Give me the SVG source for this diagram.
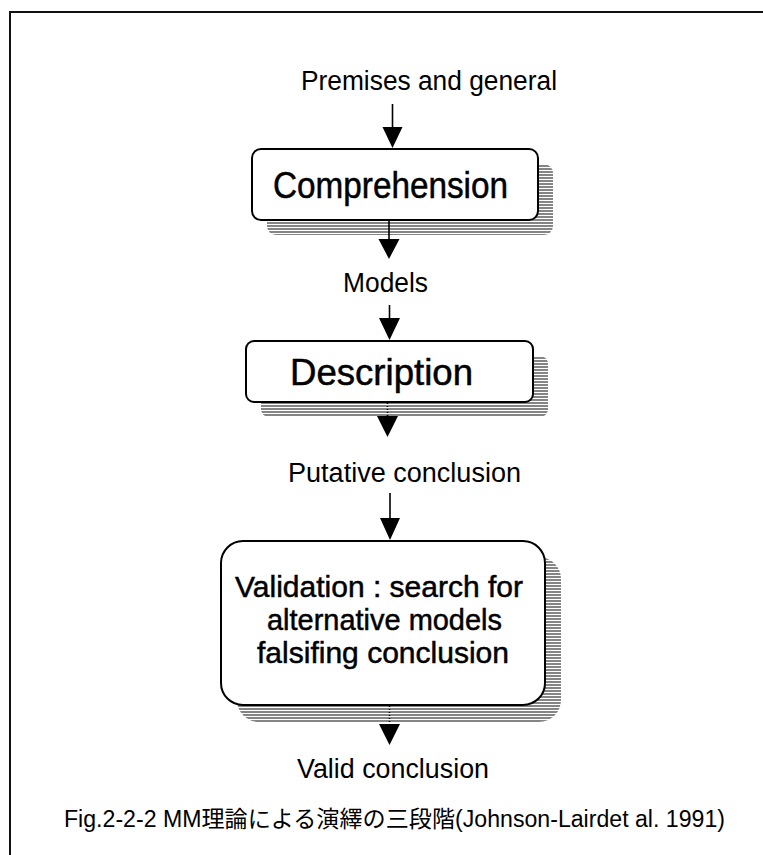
<svg xmlns="http://www.w3.org/2000/svg" width="763" height="855" viewBox="0 0 763 855">
  <style>
    .lbl { font-family: "Liberation Sans", Arial, sans-serif; font-size: 27px; fill: #000; }
    .title { font-family: "Liberation Sans", Arial, sans-serif; font-size: 36px; fill: #000; stroke: #000; stroke-width: 0.5; }
    .vtitle { font-family: "Liberation Sans", Arial, sans-serif; font-size: 30px; fill: #000; stroke: #000; stroke-width: 0.5; }
    .cap { font-family: "Liberation Sans", "Noto Sans CJK JP", sans-serif; font-size: 23px; fill: #000; }
    .box { fill: #fff; stroke: #000; stroke-width: 2; }
    .shadow { fill: url(#stripes); stroke: none; }
    .conn { stroke: #000; stroke-width: 1.6; fill: none; }
    .dot { stroke: #000; stroke-width: 1.6; fill: none; stroke-dasharray: 1 2; }
    .head { fill: #000; stroke: none; }
  </style>
  <defs>
    <pattern id="stripes" patternUnits="userSpaceOnUse" x="0" y="0" width="4" height="3">
      <rect x="0" y="0" width="4" height="3" fill="#ffffff"/>
      <rect x="0" y="0" width="4" height="2" fill="#858585"/>
    </pattern>
  </defs>

  <rect x="0" y="0" width="763" height="855" fill="#ffffff"/>
  <rect id="frame" x="10" y="12" width="820" height="900" fill="none" stroke="#111" stroke-width="2"/>

  <g id="premises">
    <text class="lbl" x="301" y="90" textLength="256" lengthAdjust="spacingAndGlyphs">Premises and general</text>
  </g>

  <g id="comprehension">
    <rect class="shadow" x="267" y="164" width="286" height="71" rx="9"/>
    <rect class="box" x="252" y="149" width="286" height="71" rx="9"/>
    <text class="title" x="273" y="198" textLength="235" lengthAdjust="spacingAndGlyphs">Comprehension</text>
  </g>

  <g id="models">
    <text class="lbl" x="343" y="292" textLength="85" lengthAdjust="spacingAndGlyphs">Models</text>
  </g>

  <g id="description">
    <rect class="shadow" x="261" y="356" width="287" height="61" rx="8"/>
    <rect class="box" x="246" y="341" width="287" height="61" rx="8"/>
    <text class="title" x="290" y="385" textLength="183" lengthAdjust="spacingAndGlyphs">Description</text>
  </g>

  <g id="putative">
    <text class="lbl" x="288" y="482" textLength="233" lengthAdjust="spacingAndGlyphs">Putative conclusion</text>
  </g>

  <g id="validation">
    <rect class="shadow" x="237" y="557" width="324" height="165" rx="22"/>
    <rect class="box" x="221" y="541" width="324" height="164" rx="22"/>
    <text class="vtitle" x="235" y="597" textLength="288" lengthAdjust="spacingAndGlyphs">Validation : search for</text>
    <text class="vtitle" x="267" y="630" textLength="235" lengthAdjust="spacingAndGlyphs">alternative models</text>
    <text class="vtitle" x="257" y="663" textLength="252" lengthAdjust="spacingAndGlyphs">falsifing conclusion</text>
  </g>

  <g id="valid">
    <text class="lbl" x="297" y="778" textLength="192" lengthAdjust="spacingAndGlyphs">Valid conclusion</text>
  </g>

  <g id="connectors">
    <line class="conn" x1="392.5" y1="104" x2="392.5" y2="129"/>
    <polygon class="head" points="382.5,127 402.5,127 392.5,148"/>

    <line class="conn" x1="389" y1="221" x2="389" y2="241"/>
    <polygon class="head" points="378.5,239 399.5,239 389,259"/>

    <line class="conn" x1="389.5" y1="305" x2="389.5" y2="320"/>
    <polygon class="head" points="379,318 400,318 389.5,340"/>

    <line class="dot" x1="387.5" y1="403" x2="387.5" y2="417"/>
    <polygon class="head" points="377,416 398,416 387.5,437"/>

    <line class="conn" x1="390" y1="493" x2="390" y2="520"/>
    <polygon class="head" points="380,518 400,518 390,540"/>

    <line class="dot" x1="389.5" y1="706" x2="389.5" y2="725"/>
    <polygon class="head" points="379,724 400,724 389.5,745"/>
  </g>

  <g id="caption">
    <text class="cap" x="64" y="827" textLength="661" lengthAdjust="spacingAndGlyphs">Fig.2-2-2 MM理論による演繹の三段階(Johnson-Lairdet al. 1991)</text>
  </g>
</svg>
